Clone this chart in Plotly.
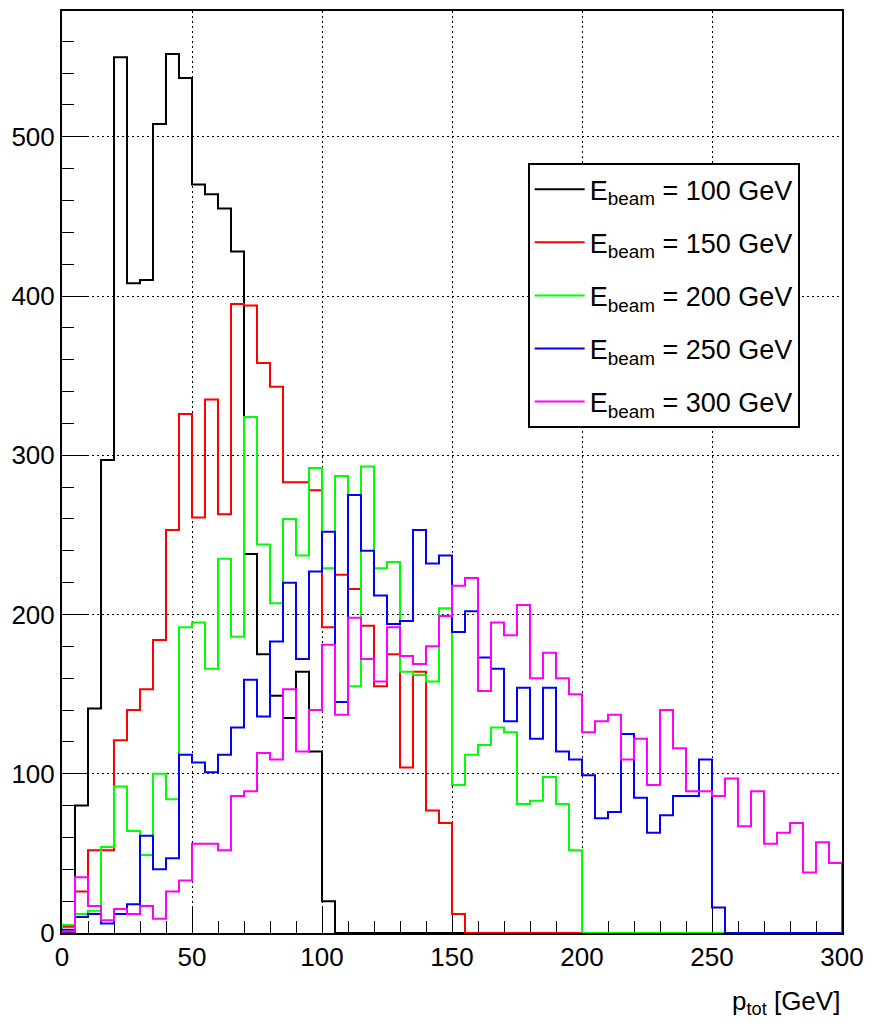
import plotly.graph_objects as go

# Bin edges: 60 bins of 5 GeV from 0 to 300
bin_width = 5
n_bins = 60
edges = [i * bin_width for i in range(n_bins + 1)]

labels = ["E<sub>beam</sub> = 100 GeV", "E<sub>beam</sub> = 150 GeV", "E<sub>beam</sub> = 200 GeV",
          "E<sub>beam</sub> = 250 GeV", "E<sub>beam</sub> = 300 GeV"]
colors = ["#000000", "#ff0000", "#00ff00", "#0000ff", "#ff00ff"]

h100 = [0, 80, 141, 297, 550, 408, 410, 508, 552, 537, 470, 464, 455, 428, 238, 175, 149, 135, 164, 114,
        20] + [0] * 39
h150 = [4, 26, 52, 52, 121, 140, 153, 184, 253, 326, 261, 335, 263, 395, 394, 358, 343, 283, 283, 278,
        192, 225, 216, 193, 155, 175, 104, 164, 77, 69, 12] + [0] * 29
h200 = [5, 12, 14, 54, 92, 64, 49, 100, 84, 192, 195, 166, 235, 186, 324, 244, 207, 260, 237, 292,
        229, 287, 155, 293, 229, 233, 164, 162, 158, 204, 93, 112, 118, 129, 126, 81, 83, 98, 81, 52] + [0] * 20
h250 = [2, 10, 12, 6, 12, 18, 61, 40, 47, 112, 107, 101, 112, 129, 159, 136, 183, 220, 172, 227,
        252, 145, 275, 240, 212, 194, 196, 253, 232, 237, 189, 202, 173, 166, 133, 154, 122, 154, 114, 109,
        99, 72, 76, 125, 85, 63, 74, 86, 86, 109, 16] + [0] * 9
h300 = [1, 35, 17, 8, 15, 12, 17, 9, 26, 33, 56, 56, 52, 86, 89, 113, 109, 153, 114, 140,
        181, 137, 198, 172, 158, 192, 174, 169, 180, 199, 218, 223, 152, 195, 187, 206, 160, 176, 160, 150,
        126, 133, 137, 109, 122, 93, 140, 116, 89, 89, 86, 97, 67, 89, 56, 63, 69, 38, 57, 44]

series = [h100, h150, h200, h250, h300]

x_tick_vals = [0, 50, 100, 150, 200, 250, 300]
y_tick_vals = [0, 100, 200, 300, 400, 500]

FONT = "Liberation Sans, Arial, Helvetica, sans-serif"

fig = go.Figure()
for i, (vals, name, col) in enumerate(zip(series, labels, colors)):
    xs = [edges[0]] + edges + [edges[-1]]
    ys = [0] + vals + [vals[-1], 0]
    fig.add_trace(go.Scatter(
        x=xs, y=ys, mode="lines", line=dict(color=col, width=2, shape="hv"),
        name=name, legendgroup="g%d" % i,
    ))

axis_common = dict(
    showline=True, linecolor="black", linewidth=2, mirror=True,
    ticks="inside", ticklen=25, tickwidth=1, tickcolor="black",
    showgrid=True, gridcolor="black", gridwidth=1, griddash="2px,3px",
    zeroline=False, layer="below traces",
    tickfont=dict(family=FONT, size=26, color="black"),
)

fig.update_xaxes(range=[0, 300], tickvals=x_tick_vals,
                 minor=dict(dtick=10, ticklen=12, ticks="inside", tickcolor="black", showgrid=False),
                 **axis_common)
fig.update_yaxes(range=[0, 579], tickvals=y_tick_vals,
                 minor=dict(dtick=20, ticklen=12, ticks="inside", tickcolor="black", showgrid=False),
                 **axis_common)

fig.add_annotation(
    text="p<sub>tot</sub> [GeV]", xref="paper", yref="paper", x=1.0, y=-0.055,
    xanchor="right", yanchor="top", showarrow=False,
    font=dict(family=FONT, size=26, color="black"),
)

fig.update_layout(
    width=876, height=1025,
    margin=dict(l=62, r=34, t=9, b=92),
    paper_bgcolor="white", plot_bgcolor="white",
    showlegend=True,
    legend=dict(
        x=0.597, y=0.835, xanchor="left", yanchor="top",
        bgcolor="white", bordercolor="black", borderwidth=2,
        font=dict(family=FONT, size=27, color="black"),
        itemwidth=50, tracegroupgap=15,
    ),
)

fig.write_html("out.html")
